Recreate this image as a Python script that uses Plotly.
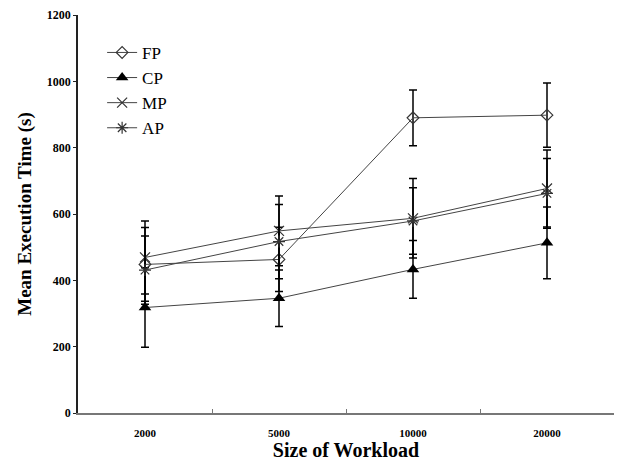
import plotly.graph_objects as go

# Workload sizes (categories) and mean execution times per policy
workloads = ["2000", "5000", "10000", "20000"]

fp_mean = [448, 463, 890, 898]
fp_err = [111, 97, 84, 97]

cp_mean = [318, 346, 433, 513]
cp_err = [120, 85, 87, 108]

mp_mean = [469, 549, 587, 677]
mp_err = [110, 105, 120, 116]

ap_mean = [431, 517, 579, 662]
ap_err = [103, 112, 100, 105]

y_ticks = [0, 200, 400, 600, 800, 1000, 1200]

serif = "Liberation Serif, Times New Roman, serif"

series = [
    ("FP", fp_mean, fp_err, dict(symbol="diamond-open", size=9, color="#333333",
                                 line=dict(width=1.2, color="#333333"))),
    ("CP", cp_mean, cp_err, dict(symbol="triangle-up", size=11, color="black")),
    ("MP", mp_mean, mp_err, dict(symbol="x-thin-open", size=10, color="#333333",
                                 line=dict(width=1.2, color="#333333"))),
    ("AP", ap_mean, ap_err, dict(symbol="asterisk-open", size=10, color="#333333",
                                 line=dict(width=1.2, color="#333333"))),
]

fig = go.Figure()
for name, mean, err, marker in series:
    fig.add_trace(go.Scatter(
        x=workloads, y=mean, name=name, mode="lines+markers",
        line=dict(color="#444444", width=1),
        marker=marker,
        error_y=dict(type="data", array=err, visible=True,
                     color="black", thickness=1.5, width=4),
    ))

fig.update_layout(
    width=627, height=462,
    margin=dict(l=78, r=13, t=15, b=49),
    paper_bgcolor="white", plot_bgcolor="white",
    font=dict(family=serif, color="black"),
    showlegend=True,
    legend=dict(x=0.045, y=0.95, xanchor="left", yanchor="top",
                font=dict(family=serif, size=17, color="black"),
                bgcolor="rgba(0,0,0,0)", tracegroupgap=0, itemwidth=30),
    xaxis=dict(
        type="category", categoryorder="array", categoryarray=workloads,
        range=[-0.5, 3.5], automargin=False,
        showgrid=False, zeroline=False,
        showline=True, linecolor="#777777", linewidth=1.5,
        ticks="inside", ticklen=4, tickcolor="#777777", tickson="boundaries",
        tickfont=dict(family=serif, size=11, color="black", weight="bold"),
        ticklabelstandoff=9,
        title=dict(text="Size of Workload", standoff=0,
                   font=dict(family=serif, size=20, color="black", weight="bold")),
    ),
    yaxis=dict(
        range=[0, 1200], tickvals=y_ticks, automargin=False,
        showgrid=False, zeroline=False,
        showline=True, linecolor="#222222", linewidth=1.5,
        ticks="outside", ticklen=3, tickcolor="#222222",
        tickfont=dict(family=serif, size=12, color="black", weight="bold"),
        title=dict(text="Mean Execution Time (s)", standoff=10,
                   font=dict(family=serif, size=19, color="black", weight="bold")),
    ),
)

fig.write_html("out.html")
